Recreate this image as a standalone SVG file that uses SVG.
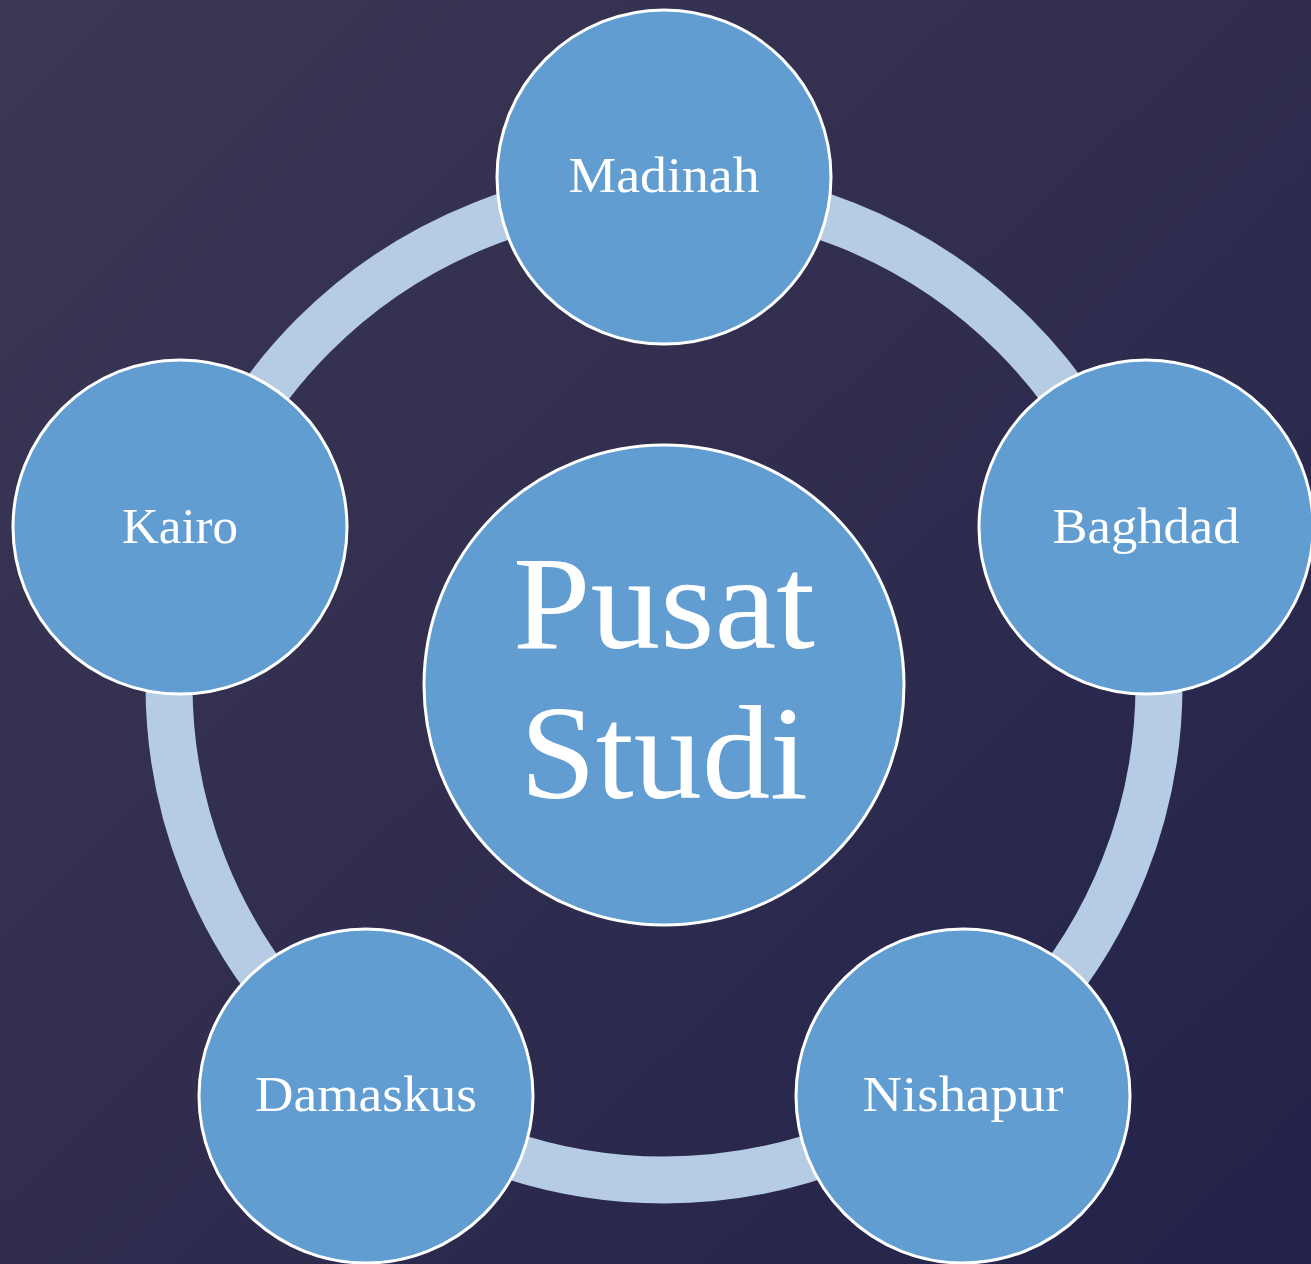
<svg xmlns="http://www.w3.org/2000/svg" width="1311" height="1264" viewBox="0 0 1311 1264">
<defs>
<linearGradient id="bg" x1="0" y1="0" x2="1" y2="1">
<stop offset="0" stop-color="#3b3754"/>
<stop offset="0.5" stop-color="#302d4f"/>
<stop offset="1" stop-color="#22224a"/>
</linearGradient>
<style>
.node{fill:#629dd1;stroke:#ffffff;stroke-width:3}
.lbl{fill:#ffffff;font-family:"Liberation Serif","Times New Roman",serif;font-size:51px;text-anchor:middle}
.big{fill:#ffffff;font-family:"Liberation Serif","Times New Roman",serif;font-size:134px;text-anchor:middle}
.ring{fill:none;stroke:#b6cce4;stroke-width:47}
</style>
</defs>
<rect width="1311" height="1264" fill="url(#bg)"/>
<g id="connectors">
<circle class="ring" cx="664" cy="685" r="495"/>
</g>
<g id="center">
<circle class="node" cx="664" cy="685" r="240"/>
<text class="big" x="664" y="648" textLength="302" lengthAdjust="spacingAndGlyphs">Pusat</text>
<text class="big" x="664" y="798" textLength="288" lengthAdjust="spacingAndGlyphs">Studi</text>
</g>
<g id="madinah">
<circle class="node" cx="664" cy="177" r="167"/>
<text class="lbl" x="664" y="192" textLength="191" lengthAdjust="spacingAndGlyphs">Madinah</text>
</g>
<g id="baghdad">
<circle class="node" cx="1146" cy="527" r="167"/>
<text class="lbl" x="1146" y="543" textLength="187" lengthAdjust="spacingAndGlyphs">Baghdad</text>
</g>
<g id="nishapur">
<circle class="node" cx="963" cy="1096" r="167"/>
<text class="lbl" x="963" y="1111" textLength="201" lengthAdjust="spacingAndGlyphs">Nishapur</text>
</g>
<g id="damaskus">
<circle class="node" cx="366" cy="1096" r="167"/>
<text class="lbl" x="366" y="1111" textLength="222" lengthAdjust="spacingAndGlyphs">Damaskus</text>
</g>
<g id="kairo">
<circle class="node" cx="180" cy="527" r="167"/>
<text class="lbl" x="180" y="543" textLength="116" lengthAdjust="spacingAndGlyphs">Kairo</text>
</g>
</svg>
